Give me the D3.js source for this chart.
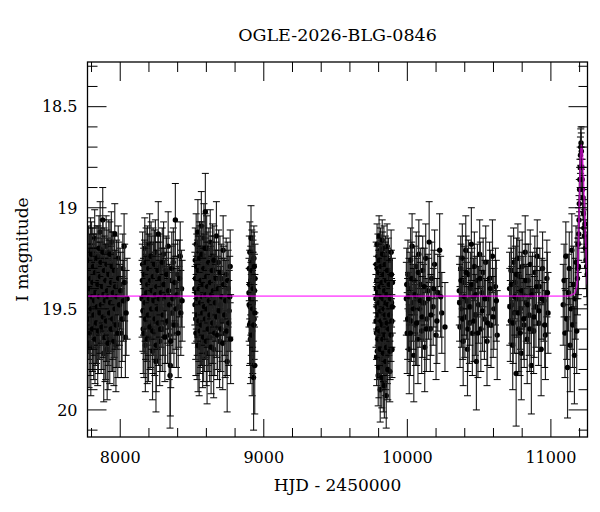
<!DOCTYPE html>
<html lang="en">
<head>
    <meta charset="UTF-8">
    <title>OGLE-2026-BLG-0846</title>
    <style>
        body { margin: 0; background: #fff; }
        #chart { width: 600px; height: 512px; }
        text { font-family: "DejaVu Serif", "Liberation Serif", serif; fill: #000; }
    </style>
</head>
<body>
    <div id="chart"></div>

    <script src="https://cdn.jsdelivr.net/npm/d3@7.8.5/dist/d3.min.js"></script>
    <script>
        // [HJD - 2450000, I mag, error] per observing season
        const season1 = [[7778,19.38,0.18],[7781,19.52,0.2],[7783,19.67,0.22],[7786,19.30,0.17],[7790,19.45,0.19],[7793,19.21,0.16],[7795,19.69,0.24],[7799,19.41,0.18],[7802,19.33,0.15],[7806,19.56,0.21],[7809,19.27,0.17],[7812,19.48,0.2],[7815,19.62,0.23],[7819,19.36,0.16],[7822,19.15,0.14],[7826,19.44,0.18],[7829,19.58,0.2],[7833,19.29,0.16],[7836,19.50,0.19],[7839,19.39,0.17],[7843,19.66,0.22],[7846,19.24,0.15],[7850,19.47,0.19],[7853,19.34,0.17],[7857,19.55,0.2],[7860,19.12,0.15],[7864,19.42,0.18],[7867,19.61,0.21],[7871,19.31,0.16],[7874,19.49,0.19],[7878,19.06,0.16],[7881,19.37,0.17],[7885,19.72,0.24],[7888,19.26,0.16],[7892,19.53,0.2],[7895,19.40,0.18],[7899,19.63,0.22],[7902,19.19,0.15],[7906,19.46,0.19],[7909,19.70,0.25],[7913,19.32,0.17],[7916,19.57,0.21],[7920,19.22,0.16],[7924,19.43,0.18],[7927,19.65,0.22],[7931,19.35,0.17],[7935,19.51,0.2],[7938,19.17,0.15],[7942,19.45,0.19],[7946,19.60,0.21],[7950,19.28,0.16],[7954,19.40,0.18],[7958,19.54,0.2],[7962,19.13,0.15],[7966,19.47,0.19],[7970,19.68,0.23],[7975,19.33,0.17],[7980,19.50,0.2],[7986,19.25,0.16],[7992,19.58,0.21],[7999,19.38,0.18],[8008,19.62,0.22],[8018,19.30,0.17],[8027,19.19,0.16],[8036,19.64,0.2],[8048,19.45,0.2],
            [7777,19.47,0.19],[7780,19.26,0.17],[7784,19.55,0.2],[7787,19.40,0.18],[7791,19.62,0.21],[7794,19.35,0.17],[7797,19.50,0.19],[7800,19.23,0.16],[7804,19.44,0.18],[7807,19.60,0.21],[7810,19.37,0.17],[7814,19.29,0.16],[7817,19.53,0.2],[7821,19.46,0.19],[7824,19.65,0.22],[7828,19.32,0.17],[7831,19.42,0.18],[7835,19.57,0.2],[7838,19.25,0.16],[7841,19.49,0.19],[7845,19.38,0.18],[7848,19.61,0.21],[7852,19.20,0.16],[7855,19.44,0.19],[7859,19.52,0.2],[7862,19.34,0.17],[7866,19.27,0.17],[7869,19.48,0.19],[7873,19.59,0.21],[7876,19.39,0.18],[7880,19.22,0.16],[7883,19.54,0.2],[7887,19.43,0.18],[7890,19.31,0.17],[7894,19.64,0.22],[7897,19.46,0.19],[7901,19.36,0.18],[7904,19.56,0.2],[7908,19.28,0.17],[7911,19.41,0.18],[7915,19.67,0.23],[7918,19.44,0.19],[7922,19.33,0.17],[7926,19.52,0.2],[7929,19.23,0.16],[7933,19.47,0.19],[7937,19.60,0.21],[7940,19.37,0.18],[7944,19.29,0.17],[7948,19.55,0.2],[7952,19.42,0.19],[7956,19.66,0.22],[7960,19.31,0.17],[7964,19.50,0.2],[7968,19.39,0.18],[7972,19.58,0.21],[7977,19.44,0.19],[7983,19.62,0.22],[7989,19.35,0.18],[7995,19.48,0.2],[8003,19.41,0.19],[8013,19.55,0.21],[8022,19.46,0.2],[8031,19.37,0.19],[8041,19.52,0.21]];
        const season2 = [[8152,19.45,0.19],[8156,19.28,0.16],[8160,19.60,0.22],[8163,19.37,0.17],[8167,19.52,0.2],[8171,19.20,0.15],[8175,19.68,0.23],[8178,19.41,0.18],[8182,19.33,0.16],[8186,19.56,0.2],[8190,19.25,0.16],[8193,19.47,0.19],[8197,19.64,0.22],[8201,19.35,0.17],[8205,19.18,0.15],[8209,19.49,0.19],[8213,19.58,0.21],[8217,19.30,0.16],[8221,19.43,0.18],[8225,19.71,0.24],[8229,19.26,0.16],[8233,19.53,0.2],[8237,19.39,0.17],[8241,19.62,0.21],[8245,19.22,0.16],[8249,19.76,0.25],[8253,19.46,0.19],[8257,19.34,0.17],[8261,19.55,0.2],[8265,19.13,0.16],[8270,19.42,0.18],[8275,19.66,0.22],[8280,19.29,0.16],[8285,19.50,0.19],[8290,19.38,0.18],[8296,19.60,0.21],[8302,19.23,0.16],[8308,19.45,0.19],[8314,19.57,0.2],[8320,19.31,0.17],[8327,19.48,0.19],[8334,19.19,0.17],[8341,19.63,0.22],[8347,19.83,0.26],[8349,19.78,0.25],[8355,19.36,0.17],[8362,19.52,0.2],[8370,19.27,0.17],[8377,19.44,0.19],[8384,19.06,0.18],[8392,19.58,0.21],[8400,19.33,0.17],[8409,19.49,0.2],[8418,19.24,0.17],[8427,19.40,0.19],
            [8154,19.36,0.18],[8158,19.51,0.2],[8162,19.44,0.19],[8165,19.62,0.22],[8169,19.33,0.17],[8173,19.47,0.19],[8177,19.55,0.2],[8180,19.27,0.17],[8184,19.42,0.18],[8188,19.65,0.22],[8192,19.38,0.18],[8195,19.53,0.2],[8199,19.30,0.17],[8203,19.45,0.19],[8207,19.59,0.21],[8211,19.36,0.18],[8215,19.24,0.17],[8219,19.50,0.2],[8223,19.41,0.18],[8227,19.61,0.21],[8231,19.34,0.17],[8235,19.46,0.19],[8239,19.28,0.17],[8243,19.55,0.2],[8247,19.43,0.19],[8251,19.68,0.23],[8255,19.39,0.18],[8259,19.50,0.2],[8263,19.31,0.17],[8267,19.57,0.21],[8272,19.45,0.19],[8277,19.35,0.18],[8282,19.60,0.21],[8287,19.42,0.19],[8293,19.27,0.17],[8299,19.53,0.2],[8305,19.38,0.18],[8311,19.64,0.22],[8317,19.44,0.19],[8323,19.33,0.18],[8330,19.56,0.21],[8337,19.41,0.19],[8344,19.48,0.2],[8352,19.66,0.23],[8359,19.30,0.18],[8366,19.45,0.2],[8374,19.58,0.21],[8381,19.37,0.19],[8388,19.50,0.2],[8396,19.43,0.19],[8404,19.62,0.22],[8413,19.35,0.19],[8422,19.52,0.21],[8431,19.46,0.2]];
        const season3 = [[8520,19.40,0.18],[8523,19.26,0.16],[8526,19.55,0.2],[8529,19.18,0.15],[8532,19.47,0.19],[8535,19.63,0.22],[8538,19.33,0.17],[8541,19.12,0.16],[8544,19.50,0.19],[8547,19.38,0.18],[8550,19.69,0.24],[8553,19.22,0.15],[8556,19.44,0.19],[8559,19.58,0.21],[8562,19.30,0.16],[8565,19.09,0.17],[8568,19.52,0.2],[8571,19.36,0.17],[8574,19.66,0.23],[8577,19.25,0.16],[8580,19.46,0.19],[8583,19.15,0.17],[8586,19.60,0.21],[8589,19.41,0.18],[8593,19.02,0.19],[8596,19.32,0.17],[8599,19.54,0.2],[8602,19.20,0.16],[8605,19.72,0.25],[8608,19.43,0.18],[8611,19.28,0.16],[8615,19.57,0.21],[8619,19.37,0.17],[8623,19.64,0.22],[8627,19.17,0.16],[8631,19.49,0.19],[8635,19.34,0.17],[8639,19.61,0.22],[8643,19.24,0.16],[8647,19.45,0.19],[8651,19.70,0.24],[8655,19.31,0.17],[8660,19.53,0.2],[8665,19.39,0.18],[8670,19.14,0.17],[8675,19.59,0.21],[8680,19.42,0.18],[8686,19.27,0.16],[8692,19.66,0.23],[8698,19.48,0.19],[8704,19.35,0.17],[8710,19.56,0.2],[8717,19.21,0.17],[8724,19.44,0.19],[8731,19.62,0.22],[8738,19.33,0.18],[8745,19.76,0.25],[8752,19.40,0.19],[8759,19.51,0.2],[8766,19.29,0.18],
            [8521,19.48,0.19],[8524,19.35,0.17],[8527,19.62,0.21],[8530,19.42,0.18],[8533,19.29,0.16],[8536,19.53,0.2],[8539,19.45,0.19],[8542,19.68,0.23],[8545,19.31,0.17],[8548,19.56,0.2],[8551,19.40,0.18],[8554,19.25,0.16],[8557,19.61,0.21],[8560,19.47,0.19],[8563,19.36,0.17],[8566,19.58,0.2],[8569,19.23,0.16],[8572,19.44,0.19],[8575,19.52,0.2],[8578,19.38,0.18],[8581,19.64,0.22],[8584,19.30,0.17],[8587,19.49,0.19],[8591,19.20,0.17],[8594,19.55,0.2],[8597,19.43,0.18],[8600,19.66,0.22],[8603,19.34,0.17],[8606,19.50,0.19],[8609,19.39,0.18],[8613,19.60,0.21],[8617,19.27,0.17],[8621,19.46,0.19],[8625,19.53,0.2],[8629,19.37,0.18],[8633,19.69,0.23],[8637,19.43,0.19],[8641,19.31,0.17],[8645,19.57,0.2],[8649,19.41,0.18],[8653,19.26,0.17],[8658,19.62,0.21],[8663,19.47,0.19],[8668,19.35,0.18],[8673,19.54,0.2],[8678,19.63,0.22],[8683,19.40,0.19],[8689,19.51,0.2],[8695,19.32,0.18],[8701,19.60,0.21],[8707,19.44,0.19],[8714,19.67,0.23],[8721,19.38,0.19],[8728,19.53,0.2],[8735,19.46,0.2],[8742,19.61,0.22],[8749,19.36,0.19],[8756,19.57,0.21],[8763,19.44,0.2],[8769,19.65,0.22]];
        const season4 = [[8897,19.42,0.17],[8899,19.30,0.16],[8901,19.58,0.2],[8903,19.22,0.15],[8905,19.49,0.19],[8907,19.65,0.22],[8909,19.36,0.17],[8911,19.15,0.16],[8913,19.53,0.2],[8915,19.44,0.18],[8917,19.27,0.16],[8919,19.70,0.23],[8921,19.39,0.17],[8923,19.61,0.21],[8925,19.33,0.17],[8927,19.47,0.19],[8929,19.84,0.26],[8931,19.25,0.16],[8933,19.55,0.2],[8935,19.41,0.18],[8937,19.78,0.24],[8939,19.35,0.17],
            [8898,19.48,0.18],[8902,19.38,0.17],[8906,19.57,0.2],[8910,19.45,0.18],[8914,19.63,0.21],[8918,19.31,0.17],[8922,19.50,0.19],[8926,19.40,0.18],[8930,19.58,0.2],[8934,19.29,0.17],[8938,19.52,0.19]];
        const season5 = [[9781,19.45,0.12],[9783,19.28,0.11],[9785,19.62,0.13],[9787,19.36,0.12],[9789,19.18,0.1],[9791,19.71,0.14],[9793,19.50,0.12],[9795,19.24,0.11],[9797,19.83,0.15],[9799,19.40,0.12],[9801,19.57,0.13],[9803,19.14,0.1],[9805,19.66,0.13],[9807,19.33,0.11],[9809,19.48,0.12],[9811,19.90,0.16],[9813,19.21,0.11],[9815,19.59,0.13],[9817,19.38,0.12],[9819,19.75,0.14],[9821,19.27,0.11],[9823,19.52,0.12],[9825,19.16,0.1],[9827,19.68,0.14],[9829,19.43,0.12],[9831,19.31,0.11],[9833,19.86,0.15],[9835,19.55,0.13],[9837,19.20,0.11],[9839,19.64,0.13],[9841,19.46,0.12],[9843,19.35,0.12],[9845,19.78,0.15],[9847,19.25,0.11],[9849,19.61,0.13],[9851,19.42,0.12],[9853,19.93,0.16],[9855,19.30,0.11],[9857,19.54,0.13],[9859,19.19,0.11],[9861,19.73,0.14],[9863,19.39,0.12],[9866,19.50,0.12],[9869,19.26,0.11],[9872,19.67,0.14],[9875,19.44,0.12],[9878,19.81,0.15],[9881,19.34,0.12],[9884,19.58,0.13],[9887,19.22,0.11],[9890,19.47,0.12],[9893,19.70,0.14],[9896,19.37,0.12],
            [9782,19.56,0.13],[9784,19.40,0.12],[9786,19.74,0.14],[9788,19.49,0.12],[9790,19.30,0.11],[9792,19.60,0.13],[9794,19.42,0.12],[9796,19.65,0.13],[9798,19.53,0.12],[9800,19.32,0.11],[9802,19.79,0.15],[9804,19.47,0.12],[9806,19.26,0.11],[9808,19.61,0.13],[9810,19.39,0.12],[9812,19.70,0.14],[9814,19.51,0.12],[9816,19.29,0.11],[9818,19.56,0.13],[9820,19.44,0.12],[9822,19.84,0.15],[9824,19.37,0.12],[9826,19.58,0.13],[9828,19.23,0.11],[9830,19.65,0.13],[9832,19.45,0.12],[9834,19.72,0.14],[9836,19.33,0.11],[9838,19.50,0.12],[9840,19.88,0.16],[9842,19.41,0.12],[9844,19.63,0.13],[9846,19.28,0.11],[9848,19.53,0.12],[9850,19.76,0.14],[9852,19.47,0.12],[9854,19.36,0.12],[9856,19.69,0.14],[9858,19.43,0.12],[9860,19.57,0.13],[9862,19.31,0.11],[9864,19.80,0.15],[9868,19.48,0.12],[9871,19.60,0.13],[9874,19.38,0.12],[9877,19.53,0.13],[9880,19.71,0.14],[9883,19.45,0.12],[9886,19.63,0.13],[9889,19.33,0.12],[9892,19.56,0.13],[9895,19.49,0.13]];
        const season6 = [[9993,19.45,0.18],[9999,19.62,0.2],[10004,19.33,0.17],[10008,19.51,0.19],[10013,19.70,0.22],[10018,19.40,0.18],[10023,19.26,0.16],[10028,19.56,0.2],[10033,19.19,0.16],[10039,19.47,0.19],[10045,19.73,0.23],[10050,19.36,0.17],[10056,19.58,0.2],[10062,19.29,0.17],[10068,19.44,0.19],[10074,19.65,0.22],[10080,19.23,0.17],[10087,19.50,0.19],[10093,19.38,0.18],[10100,19.61,0.21],[10107,19.31,0.17],[10114,19.47,0.19],[10121,19.69,0.22],[10128,19.25,0.17],[10136,19.55,0.2],[10144,19.41,0.18],[10152,19.17,0.2],[10160,19.60,0.21],[10170,19.35,0.18],[10180,19.49,0.19],[10190,19.28,0.17],[10200,19.63,0.22],[10212,19.42,0.19],[10225,19.21,0.18],[10240,19.52,0.2],[10262,19.59,0.22],
            [9996,19.38,0.18],[10002,19.55,0.2],[10011,19.44,0.19],[10021,19.62,0.21],[10031,19.35,0.18],[10042,19.50,0.2],[10053,19.43,0.19],[10065,19.57,0.21],[10077,19.32,0.18],[10090,19.46,0.19],[10104,19.54,0.2],[10118,19.39,0.19],[10132,19.60,0.21],[10148,19.45,0.2],[10165,19.53,0.2],[10185,19.40,0.19],[10206,19.56,0.21],[10232,19.44,0.2]];
        const season7 = [[10362,19.41,0.17],[10367,19.59,0.2],[10372,19.30,0.16],[10377,19.50,0.19],[10383,19.25,0.17],[10389,19.66,0.22],[10395,19.37,0.18],[10401,19.54,0.2],[10407,19.21,0.17],[10413,19.46,0.19],[10419,19.70,0.23],[10425,19.33,0.17],[10432,19.57,0.2],[10439,19.40,0.18],[10446,19.18,0.18],[10453,19.62,0.21],[10460,19.44,0.19],[10467,19.29,0.17],[10474,19.53,0.2],[10481,19.76,0.24],[10488,19.36,0.18],[10496,19.48,0.19],[10504,19.23,0.17],[10512,19.60,0.21],[10520,19.42,0.18],[10528,19.32,0.17],[10537,19.55,0.2],[10546,19.27,0.18],[10555,19.66,0.22],[10564,19.45,0.19],[10573,19.35,0.18],[10583,19.58,0.21],[10593,19.24,0.18],[10603,19.50,0.2],[10614,19.39,0.19],[10626,19.63,0.22],
            [10364,19.47,0.19],[10374,19.36,0.18],[10386,19.55,0.2],[10398,19.44,0.19],[10410,19.32,0.18],[10422,19.60,0.21],[10436,19.49,0.19],[10450,19.38,0.18],[10464,19.56,0.2],[10478,19.43,0.19],[10492,19.62,0.22],[10508,19.35,0.18],[10524,19.51,0.2],[10541,19.45,0.19],[10559,19.57,0.21],[10578,19.40,0.19],[10598,19.54,0.2],[10620,19.46,0.2]];
        const season8 = [[10712,19.40,0.18],[10717,19.56,0.2],[10722,19.31,0.17],[10728,19.48,0.19],[10734,19.68,0.22],[10740,19.27,0.17],[10746,19.52,0.2],[10752,19.37,0.18],[10758,19.82,0.26],[10764,19.45,0.19],[10770,19.25,0.17],[10776,19.60,0.21],[10782,19.34,0.18],[10788,19.50,0.2],[10794,19.72,0.23],[10800,19.29,0.17],[10807,19.43,0.19],[10814,19.58,0.21],[10821,19.22,0.18],[10828,19.47,0.19],[10835,19.65,0.22],[10842,19.36,0.18],[10849,19.53,0.2],[10856,19.28,0.17],[10864,19.78,0.24],[10872,19.41,0.19],[10880,19.61,0.21],[10888,19.32,0.18],[10896,19.49,0.2],[10905,19.24,0.18],[10914,19.57,0.21],[10923,19.39,0.19],[10932,19.70,0.23],[10942,19.30,0.18],[10952,19.46,0.2],[10962,19.63,0.22],[10972,19.35,0.19],[10980,19.52,0.2],
            [10714,19.49,0.19],[10725,19.38,0.18],[10737,19.57,0.2],[10749,19.44,0.19],[10761,19.33,0.18],[10773,19.52,0.2],[10785,19.62,0.21],[10797,19.41,0.19],[10811,19.55,0.2],[10825,19.36,0.18],[10839,19.48,0.19],[10853,19.60,0.21],[10868,19.43,0.19],[10884,19.54,0.2],[10900,19.39,0.19],[10918,19.51,0.2],[10937,19.45,0.2],[10957,19.58,0.21],[10976,19.42,0.2]];
        const season9 = [[11086,19.48,0.2],[11092,19.36,0.18],[11098,19.62,0.22],[11104,19.24,0.17],[11110,19.55,0.2],[11116,19.79,0.25],[11122,19.42,0.19],[11128,19.30,0.18],[11134,19.68,0.23],[11140,19.50,0.2],[11146,19.21,0.18],[11152,19.58,0.21],[11158,19.38,0.19],[11164,19.73,0.24],[11170,19.45,0.2],[11175,19.27,0.18],[11180,19.61,0.21],[11185,19.35,0.18],[11188,19.30,0.15],[11190,19.18,0.14],[11192,19.29,0.14],[11194,19.13,0.13],[11196,19.06,0.12],[11198,18.98,0.12],[11200,18.91,0.11],[11202,18.86,0.1],[11204,18.80,0.1],[11206,18.74,0.09],[11208,18.70,0.09],[11210,18.68,0.08],[11212,18.72,0.09],[11215,18.80,0.1],[11218,18.86,0.1],[11221,18.91,0.11],[11224,18.95,0.11],[11227,19.03,0.12],[11230,19.10,0.12],[11233,19.14,0.13],[11237,19.08,0.12],[11241,19.20,0.14],[11245,19.26,0.14],[11249,19.29,0.15],[11253,19.33,0.15]];

        // microlensing model curve
        const modelT = [7772, 11105, 11161, 11182, 11189, 11196, 11203, 11210, 11217, 11228, 11238, 11249, 11255];
        const modelM = [19.437, 19.437, 19.425, 19.38, 19.26, 19.04, 18.83, 18.69, 18.71, 18.86, 19.08, 19.28, 19.38];

        const xTicks = [8000, 9000, 10000, 11000];
        const yTicks = [18.5, 19, 19.5, 20];
        const title = 'OGLE-2026-BLG-0846';
        const xLabel = 'HJD - 2450000';
        const yLabel = 'I magnitude';

        const width = 600, height = 512;
        const margin = { top: 62, right: 12.5, bottom: 75, left: 87.5 };
        const x0 = margin.left, x1 = width - margin.right;
        const y0 = margin.top, y1 = height - margin.bottom;

        const x = d3.scaleLinear().domain([7772, 11255]).range([x0, x1]);
        const y = d3.scaleLinear().domain([18.279, 20.134]).range([y0, y1]);

        const svg = d3.select('#chart').append('svg')
            .attr('width', width)
            .attr('height', height);

        svg.append('clipPath').attr('id', 'clip')
            .append('rect')
            .attr('x', x0).attr('y', y0)
            .attr('width', x1 - x0).attr('height', y1 - y0);

        const allPoints = [].concat(season1, season2, season3, season4, season5, season6, season7, season8, season9);

        const plot = svg.append('g').attr('clip-path', 'url(#clip)');

        const pts = plot.selectAll('g.pt')
            .data(allPoints)
            .enter()
            .append('g')
            .attr('class', 'pt');

        pts.append('line')
            .attr('x1', d => x(d[0])).attr('x2', d => x(d[0]))
            .attr('y1', d => y(d[1] - d[2])).attr('y2', d => y(d[1] + d[2]))
            .attr('stroke', '#222')
            .attr('stroke-width', 1.15);

        [-1, 1].forEach(s => {
            pts.append('line')
                .attr('x1', d => x(d[0]) - 3.5).attr('x2', d => x(d[0]) + 3.5)
                .attr('y1', d => y(d[1] + s * d[2])).attr('y2', d => y(d[1] + s * d[2]))
                .attr('stroke', '#000')
                .attr('stroke-width', 1);
        });

        pts.append('circle')
            .attr('cx', d => x(d[0]))
            .attr('cy', d => y(d[1]))
            .attr('r', 2.7)
            .attr('fill', '#000');

        const model = modelT.map((t, i) => [t, modelM[i]]);
        plot.append('path')
            .datum(model)
            .attr('fill', 'none')
            .attr('stroke', '#ff00ff')
            .attr('stroke-opacity', 0.6)
            .attr('stroke-width', 1.8)
            .attr('d', d3.line().x(d => x(d[0])).y(d => y(d[1])).curve(d3.curveMonotoneX));

        // frame and inward ticks on all four sides
        const axes = svg.append('g').attr('stroke', '#000').attr('stroke-width', 1);
        axes.append('rect')
            .attr('x', x0).attr('y', y0)
            .attr('width', x1 - x0).attr('height', y1 - y0)
            .attr('fill', 'none')
            .attr('stroke-width', 1.3);

        const xMinor = d3.range(7800, 11255, 200).filter(v => v % 1000 !== 0);
        const yMinor = d3.range(18.3, 20.14, 0.1).filter(v => Math.abs(v * 2 - Math.round(v * 2)) > 0.01);

        xTicks.forEach(v => {
            axes.append('line').attr('x1', x(v)).attr('x2', x(v)).attr('y1', y1).attr('y2', y1 - 18);
            axes.append('line').attr('x1', x(v)).attr('x2', x(v)).attr('y1', y0).attr('y2', y0 + 19);
        });
        xMinor.forEach(v => {
            axes.append('line').attr('x1', x(v)).attr('x2', x(v)).attr('y1', y1).attr('y2', y1 - 9);
            axes.append('line').attr('x1', x(v)).attr('x2', x(v)).attr('y1', y0).attr('y2', y0 + 10);
        });
        yTicks.forEach(v => {
            axes.append('line').attr('x1', x0).attr('x2', x0 + 19).attr('y1', y(v)).attr('y2', y(v));
            axes.append('line').attr('x1', x1).attr('x2', x1 - 19).attr('y1', y(v)).attr('y2', y(v));
        });
        yMinor.forEach(v => {
            axes.append('line').attr('x1', x0).attr('x2', x0 + 10).attr('y1', y(v)).attr('y2', y(v));
            axes.append('line').attr('x1', x1).attr('x2', x1 - 9).attr('y1', y(v)).attr('y2', y(v));
        });

        svg.selectAll('text.xt')
            .data(xTicks)
            .enter()
            .append('text')
            .attr('class', 'xt')
            .attr('x', d => x(d))
            .attr('y', y1 + 26)
            .attr('text-anchor', 'middle')
            .attr('font-size', 16)
            .text(d => d);

        svg.selectAll('text.yt')
            .data(yTicks)
            .enter()
            .append('text')
            .attr('class', 'yt')
            .attr('x', x0 - 10)
            .attr('y', d => y(d))
            .attr('dy', '0.36em')
            .attr('text-anchor', 'end')
            .attr('font-size', 16)
            .text(d => d);

        svg.append('text')
            .attr('x', (x0 + x1) / 2)
            .attr('y', 41)
            .attr('text-anchor', 'middle')
            .attr('font-size', 17.5)
            .text(title);

        svg.append('text')
            .attr('x', (x0 + x1) / 2)
            .attr('y', 491)
            .attr('text-anchor', 'middle')
            .attr('font-size', 17)
            .text(xLabel);

        svg.append('text')
            .attr('transform', `translate(28,${(y0 + y1) / 2}) rotate(-90)`)
            .attr('text-anchor', 'middle')
            .attr('font-size', 17)
            .text(yLabel);
    </script>
</body>
</html>
